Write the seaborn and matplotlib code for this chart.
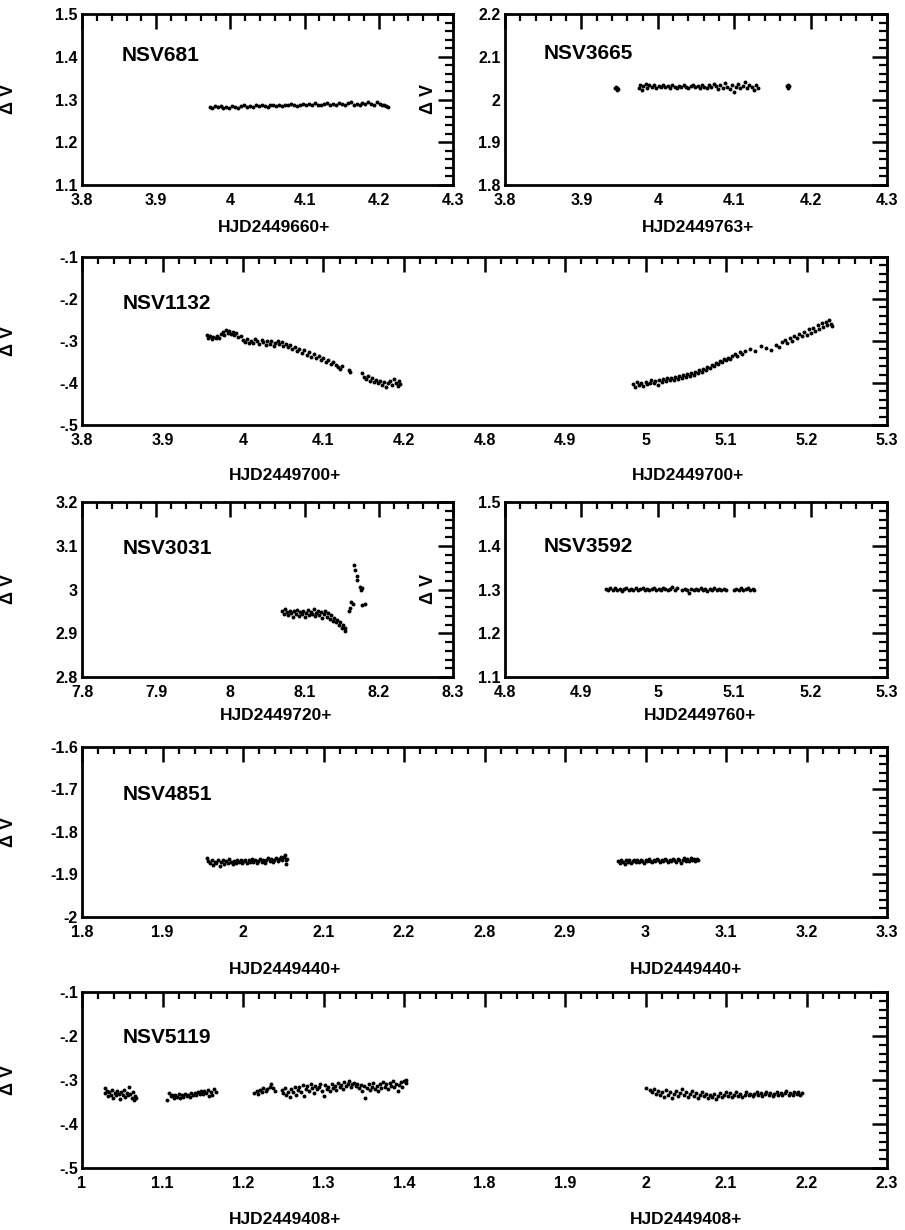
import matplotlib
matplotlib.use("Agg")
import matplotlib.pyplot as plt
import pandas as pd
import seaborn as sns
from matplotlib.ticker import MultipleLocator

# ---------------- data ----------------
nsv681 = [(3.972,1.283),(3.975,1.280),(3.979,1.285),(3.983,1.282),(3.987,1.284),(3.990,1.279),(3.994,1.283),(3.998,1.281),(4.002,1.285),(4.006,1.283),(4.010,1.281),(4.014,1.284),(4.018,1.286),(4.022,1.283),(4.026,1.285),(4.030,1.282),(4.034,1.286),(4.038,1.284),(4.042,1.287),(4.046,1.285),(4.050,1.283),(4.054,1.286),(4.058,1.288),(4.062,1.285),(4.066,1.287),(4.070,1.284),(4.074,1.288),(4.078,1.286),(4.082,1.289),(4.086,1.287),(4.090,1.285),(4.094,1.288),(4.098,1.290),(4.102,1.287),(4.106,1.289),(4.110,1.286),(4.114,1.291),(4.118,1.288),(4.122,1.286),(4.126,1.289),(4.130,1.291),(4.134,1.287),(4.138,1.290),(4.142,1.288),(4.146,1.292),(4.150,1.289),(4.154,1.287),(4.158,1.291),(4.162,1.293),(4.166,1.288),(4.170,1.290),(4.174,1.286),(4.178,1.291),(4.182,1.289),(4.186,1.293),(4.190,1.290),(4.194,1.288),(4.198,1.295),(4.201,1.289),(4.204,1.287),(4.207,1.286),(4.210,1.284),(4.212,1.283)]

nsv3665 = [(3.944,2.026),(3.946,2.023),(3.947,2.027),(3.945,2.029),(3.948,2.024),
           (3.975,2.028),(3.977,2.034),(3.979,2.022),(3.981,2.031),(3.984,2.036),(3.986,2.027),(3.989,2.033),(3.992,2.030),(3.995,2.035),(3.998,2.028),(4.001,2.032),(4.004,2.030),(4.007,2.034),(4.010,2.029),(4.013,2.031),(4.016,2.027),(4.019,2.033),(4.022,2.030),(4.025,2.028),(4.028,2.032),(4.031,2.029),(4.034,2.033),(4.037,2.030),(4.040,2.027),(4.043,2.031),(4.046,2.034),(4.049,2.029),(4.052,2.032),(4.055,2.028),(4.058,2.035),(4.061,2.030),(4.064,2.026),(4.067,2.033),(4.070,2.029),(4.073,2.036),(4.076,2.031),(4.079,2.025),(4.082,2.034),(4.085,2.028),(4.088,2.038),(4.091,2.030),(4.094,2.024),(4.097,2.033),(4.100,2.018),(4.102,2.029),(4.105,2.036),(4.108,2.027),(4.111,2.031),(4.114,2.040),(4.117,2.026),(4.120,2.033),(4.123,2.029),(4.126,2.022),(4.129,2.035),(4.131,2.027),
           (4.169,2.031),(4.171,2.028),(4.172,2.032),(4.170,2.034)]

nsv1132_a = [(3.955,-0.285),(3.957,-0.293),(3.959,-0.289),(3.961,-0.296),(3.963,-0.290),(3.966,-0.294),(3.968,-0.287),(3.970,-0.292),(3.973,-0.283),(3.975,-0.278),(3.977,-0.285),(3.979,-0.275),(3.981,-0.281),(3.983,-0.277),(3.985,-0.283),(3.987,-0.279),(3.989,-0.286),(3.991,-0.281),(3.994,-0.290),(3.997,-0.287),(4.000,-0.297),(4.002,-0.302),(4.005,-0.296),(4.008,-0.304),(4.010,-0.299),(4.013,-0.305),(4.015,-0.295),(4.018,-0.301),(4.020,-0.307),(4.023,-0.298),(4.025,-0.303),(4.028,-0.309),(4.030,-0.300),(4.033,-0.306),(4.035,-0.301),(4.038,-0.311),(4.040,-0.304),(4.043,-0.299),(4.045,-0.308),(4.048,-0.303),(4.050,-0.312),(4.053,-0.306),(4.056,-0.315),(4.058,-0.309),(4.061,-0.320),(4.064,-0.314),(4.067,-0.323),(4.070,-0.318),(4.073,-0.328),(4.076,-0.322),(4.079,-0.333),(4.082,-0.327),(4.085,-0.337),(4.088,-0.331),(4.091,-0.340),(4.094,-0.335),(4.097,-0.345),(4.100,-0.341),(4.103,-0.349),(4.106,-0.346),(4.109,-0.355),(4.112,-0.351),(4.115,-0.358),(4.118,-0.362),(4.121,-0.366),(4.123,-0.360),(4.132,-0.368),(4.133,-0.373),(4.148,-0.377),(4.150,-0.385),(4.153,-0.391),(4.155,-0.383),(4.158,-0.395),(4.160,-0.389),(4.163,-0.398),(4.165,-0.392),(4.168,-0.401),(4.170,-0.395),(4.173,-0.404),(4.175,-0.398),(4.178,-0.410),(4.180,-0.401),(4.183,-0.396),(4.185,-0.405),(4.188,-0.391),(4.190,-0.400),(4.192,-0.407),(4.194,-0.395),(4.195,-0.402)]

nsv1132_b = [(4.985,-0.402),(4.987,-0.410),(4.989,-0.398),(4.992,-0.405),(4.994,-0.400),(4.997,-0.407),(5.000,-0.397),(5.002,-0.403),(5.005,-0.399),(5.007,-0.394),(5.010,-0.401),(5.012,-0.396),(5.015,-0.404),(5.017,-0.393),(5.020,-0.398),(5.022,-0.391),(5.025,-0.396),(5.027,-0.389),(5.030,-0.394),(5.032,-0.387),(5.035,-0.392),(5.037,-0.385),(5.040,-0.390),(5.042,-0.384),(5.045,-0.388),(5.047,-0.381),(5.050,-0.386),(5.052,-0.379),(5.055,-0.383),(5.057,-0.376),(5.060,-0.381),(5.062,-0.374),(5.065,-0.377),(5.067,-0.370),(5.070,-0.373),(5.072,-0.366),(5.075,-0.369),(5.077,-0.362),(5.080,-0.365),(5.082,-0.357),(5.085,-0.360),(5.087,-0.353),(5.090,-0.355),(5.092,-0.348),(5.095,-0.351),(5.097,-0.344),(5.100,-0.346),(5.102,-0.340),(5.105,-0.342),(5.108,-0.335),(5.111,-0.330),(5.114,-0.336),(5.117,-0.326),(5.120,-0.331),(5.124,-0.323),(5.130,-0.319),(5.136,-0.324),(5.143,-0.312),(5.150,-0.317),(5.156,-0.321),(5.162,-0.309),(5.166,-0.314),(5.170,-0.303),(5.173,-0.298),(5.176,-0.305),(5.179,-0.294),(5.182,-0.299),(5.185,-0.288),(5.188,-0.293),(5.191,-0.283),(5.194,-0.289),(5.197,-0.279),(5.200,-0.285),(5.203,-0.272),(5.206,-0.281),(5.208,-0.268),(5.211,-0.276),(5.214,-0.262),(5.216,-0.272),(5.219,-0.258),(5.221,-0.267),(5.224,-0.254),(5.226,-0.263),(5.228,-0.249),(5.230,-0.259),(5.232,-0.265)]

nsv3031 = [(8.070,2.951),(8.072,2.945),(8.074,2.955),(8.076,2.948),(8.078,2.942),(8.080,2.952),(8.082,2.946),(8.084,2.938),(8.086,2.950),(8.088,2.944),(8.090,2.953),(8.092,2.940),(8.094,2.948),(8.096,2.943),(8.098,2.951),(8.100,2.937),(8.102,2.946),(8.104,2.954),(8.106,2.941),(8.108,2.949),(8.110,2.944),(8.112,2.956),(8.114,2.939),(8.116,2.947),(8.118,2.952),(8.120,2.942),(8.122,2.948),(8.124,2.935),(8.126,2.944),(8.128,2.950),(8.130,2.938),(8.132,2.946),(8.134,2.932),(8.136,2.941),(8.138,2.928),(8.140,2.936),(8.142,2.925),(8.144,2.931),(8.146,2.919),(8.148,2.926),(8.150,2.912),(8.152,2.918),(8.154,2.905),(8.155,2.912),
           (8.160,2.950),(8.161,2.957),(8.163,2.972),(8.165,2.968),(8.167,3.055),(8.168,3.045),(8.170,3.030),(8.171,3.022),(8.174,3.006),(8.176,3.000),(8.178,3.003),(8.178,2.965),(8.181,2.967)]

nsv3592 = [(4.932,1.301),(4.935,1.298),(4.938,1.303),(4.941,1.300),(4.944,1.304),(4.947,1.299),(4.950,1.302),(4.953,1.297),(4.956,1.301),(4.959,1.304),(4.962,1.299),(4.965,1.302),(4.968,1.300),(4.971,1.303),(4.974,1.298),(4.977,1.301),(4.980,1.304),(4.983,1.300),(4.986,1.302),(4.989,1.298),(4.992,1.301),(4.995,1.303),(4.998,1.299),(5.001,1.302),(5.004,1.300),(5.007,1.304),(5.010,1.301),(5.013,1.298),(5.016,1.302),(5.019,1.305),(5.022,1.300),(5.025,1.303),
           (5.032,1.299),(5.035,1.302),(5.038,1.300),(5.041,1.293),(5.044,1.301),(5.047,1.298),(5.050,1.302),(5.053,1.300),(5.056,1.303),(5.059,1.299),(5.062,1.301),(5.065,1.297),(5.068,1.302),(5.071,1.300),(5.074,1.304),(5.077,1.299),(5.080,1.301),(5.083,1.298),(5.086,1.302),(5.089,1.300),
           (5.100,1.299),(5.103,1.302),(5.106,1.300),(5.109,1.303),(5.112,1.298),(5.115,1.301),(5.118,1.304),(5.121,1.300),(5.124,1.302),(5.126,1.299)]

nsv4851_a = [(1.955,-1.862),(1.957,-1.868),(1.959,-1.873),(1.961,-1.866),(1.963,-1.877),(1.965,-1.870),(1.967,-1.874),(1.969,-1.867),(1.971,-1.879),(1.973,-1.871),(1.975,-1.866),(1.977,-1.875),(1.979,-1.869),(1.981,-1.873),(1.983,-1.864),(1.985,-1.870),(1.987,-1.876),(1.989,-1.868),(1.991,-1.872),(1.993,-1.865),(1.995,-1.871),(1.997,-1.867),(1.999,-1.874),(2.001,-1.869),(2.003,-1.865),(2.005,-1.872),(2.007,-1.867),(2.009,-1.870),(2.011,-1.864),(2.013,-1.871),(2.015,-1.866),(2.017,-1.873),(2.019,-1.868),(2.021,-1.864),(2.023,-1.870),(2.025,-1.866),(2.027,-1.872),(2.029,-1.867),(2.031,-1.862),(2.033,-1.869),(2.035,-1.864),(2.037,-1.871),(2.039,-1.866),(2.041,-1.861),(2.043,-1.868),(2.045,-1.863),(2.047,-1.858),(2.049,-1.866),(2.051,-1.860),(2.052,-1.855),(2.053,-1.867),(2.054,-1.875),(2.055,-1.863)]

nsv4851_b = [(2.966,-1.868),(2.968,-1.873),(2.970,-1.866),(2.972,-1.871),(2.974,-1.875),(2.976,-1.867),(2.978,-1.870),(2.980,-1.865),(2.982,-1.872),(2.984,-1.868),(2.986,-1.866),(2.988,-1.871),(2.990,-1.867),(2.992,-1.870),(2.994,-1.865),(2.996,-1.869),(2.998,-1.872),(3.000,-1.866),(3.002,-1.869),(3.004,-1.864),(3.006,-1.868),(3.008,-1.871),(3.010,-1.866),(3.012,-1.869),(3.014,-1.864),(3.016,-1.867),(3.018,-1.870),(3.020,-1.865),(3.022,-1.868),(3.024,-1.863),(3.026,-1.867),(3.028,-1.871),(3.030,-1.865),(3.032,-1.868),(3.034,-1.863),(3.036,-1.866),(3.038,-1.870),(3.040,-1.864),(3.042,-1.867),(3.044,-1.872),(3.046,-1.865),(3.048,-1.862),(3.050,-1.868),(3.052,-1.864),(3.054,-1.869),(3.056,-1.861),(3.058,-1.866),(3.060,-1.863),(3.062,-1.868),(3.064,-1.864),(3.065,-1.866)]

nsv5119_a = [(1.028,-0.318),(1.029,-0.330),(1.031,-0.325),(1.032,-0.337),(1.034,-0.328),(1.036,-0.333),(1.037,-0.322),(1.039,-0.340),(1.041,-0.329),(1.042,-0.335),(1.044,-0.326),(1.046,-0.331),(1.047,-0.344),(1.049,-0.327),(1.051,-0.334),(1.052,-0.323),(1.054,-0.338),(1.056,-0.329),(1.057,-0.335),(1.059,-0.316),(1.060,-0.331),(1.062,-0.340),(1.063,-0.327),(1.065,-0.345),(1.066,-0.336),(1.067,-0.342),
             (1.106,-0.345),(1.108,-0.330),(1.110,-0.337),(1.112,-0.333),(1.114,-0.340),(1.116,-0.335),(1.118,-0.338),(1.120,-0.332),(1.122,-0.341),(1.124,-0.335),(1.126,-0.338),(1.128,-0.331),(1.130,-0.336),(1.132,-0.333),(1.134,-0.339),(1.136,-0.330),(1.138,-0.335),(1.140,-0.329),(1.142,-0.334),(1.144,-0.327),(1.146,-0.332),(1.148,-0.326),(1.150,-0.331),(1.152,-0.324),(1.154,-0.330),(1.156,-0.322),(1.158,-0.336),(1.160,-0.327),(1.162,-0.333),(1.164,-0.320),(1.166,-0.328),
             (1.214,-0.330),(1.217,-0.325),(1.219,-0.332),(1.221,-0.322),(1.223,-0.328),(1.225,-0.318),(1.228,-0.326),(1.230,-0.321),(1.233,-0.315),(1.235,-0.308),(1.237,-0.319),(1.240,-0.324),(1.248,-0.323),(1.250,-0.330),(1.252,-0.318),(1.254,-0.335),(1.256,-0.327),(1.258,-0.339),(1.260,-0.320),(1.262,-0.328),(1.264,-0.315),(1.266,-0.333),(1.268,-0.322),(1.270,-0.317),(1.272,-0.327),(1.274,-0.312),(1.276,-0.336),(1.278,-0.320),(1.280,-0.314),(1.282,-0.325),(1.284,-0.310),(1.286,-0.318),(1.288,-0.329),(1.290,-0.313),(1.292,-0.321),(1.294,-0.316),(1.296,-0.308),(1.298,-0.324),(1.300,-0.337),(1.302,-0.312),(1.304,-0.320),(1.306,-0.315),(1.308,-0.326),(1.310,-0.309),(1.312,-0.318),(1.314,-0.313),(1.316,-0.322),(1.318,-0.307),(1.320,-0.316),(1.322,-0.311),(1.324,-0.320),(1.326,-0.305),(1.328,-0.314),(1.330,-0.309),(1.332,-0.303),(1.334,-0.317),(1.336,-0.310),(1.338,-0.306),(1.340,-0.313),(1.342,-0.308),(1.344,-0.319),(1.346,-0.311),(1.348,-0.326),(1.350,-0.314),(1.352,-0.342),(1.354,-0.318),(1.356,-0.310),(1.358,-0.322),(1.360,-0.315),(1.362,-0.307),(1.364,-0.320),(1.366,-0.313),(1.368,-0.325),(1.370,-0.310),(1.372,-0.318),(1.374,-0.304),(1.376,-0.316),(1.378,-0.310),(1.380,-0.321),(1.382,-0.306),(1.384,-0.314),(1.386,-0.302),(1.388,-0.317),(1.390,-0.309),(1.392,-0.324),(1.394,-0.311),(1.396,-0.305),(1.398,-0.315),(1.400,-0.303),(1.402,-0.299),(1.403,-0.307)]

nsv5119_b = [(2.000,-0.318),(2.005,-0.322),(2.008,-0.327),(2.010,-0.320),(2.013,-0.331),(2.015,-0.325),(2.018,-0.334),(2.020,-0.327),(2.023,-0.338),(2.025,-0.323),(2.028,-0.333),(2.030,-0.328),(2.033,-0.340),(2.035,-0.331),(2.038,-0.325),(2.040,-0.336),(2.043,-0.329),(2.045,-0.321),(2.048,-0.334),(2.050,-0.327),(2.053,-0.338),(2.055,-0.331),(2.058,-0.325),(2.060,-0.336),(2.063,-0.329),(2.065,-0.340),(2.068,-0.333),(2.070,-0.327),(2.073,-0.337),(2.075,-0.331),(2.078,-0.342),(2.080,-0.335),(2.083,-0.339),(2.085,-0.332),(2.088,-0.343),(2.090,-0.336),(2.093,-0.330),(2.095,-0.338),(2.098,-0.333),(2.100,-0.327),(2.103,-0.336),(2.105,-0.330),(2.108,-0.339),(2.110,-0.333),(2.113,-0.328),(2.115,-0.336),(2.118,-0.331),(2.120,-0.339),(2.123,-0.333),(2.125,-0.328),(2.128,-0.335),(2.130,-0.331),(2.133,-0.337),(2.135,-0.332),(2.138,-0.328),(2.140,-0.335),(2.143,-0.330),(2.145,-0.336),(2.148,-0.331),(2.150,-0.327),(2.153,-0.334),(2.155,-0.330),(2.158,-0.336),(2.160,-0.331),(2.163,-0.327),(2.165,-0.334),(2.168,-0.329),(2.170,-0.335),(2.173,-0.330),(2.175,-0.326),(2.178,-0.333),(2.180,-0.329),(2.183,-0.334),(2.185,-0.328),(2.188,-0.332),(2.190,-0.327),(2.192,-0.333),(2.194,-0.329)]

# tick labels
xlab_681 = ["3.8", "3.9", "4", "4.1", "4.2", "4.3"]
ylab_681 = ["1.1", "1.2", "1.3", "1.4", "1.5"]
xlab_3665 = ["3.8", "3.9", "4", "4.1", "4.2", "4.3"]
ylab_3665 = ["1.8", "1.9", "2", "2.1", "2.2"]
xlab_1132 = ["3.8", "3.9", "4", "4.1", "4.2", "4.8", "4.9", "5", "5.1", "5.2", "5.3"]
ylab_1132 = ["-.5", "-.4", "-.3", "-.2", "-.1"]
xlab_3031 = ["7.8", "7.9", "8", "8.1", "8.2", "8.3"]
ylab_3031 = ["2.8", "2.9", "3", "3.1", "3.2"]
xlab_3592 = ["4.8", "4.9", "5", "5.1", "5.2", "5.3"]
ylab_3592 = ["1.1", "1.2", "1.3", "1.4", "1.5"]
xlab_4851 = ["1.8", "1.9", "2", "2.1", "2.2", "2.8", "2.9", "3", "3.1", "3.2", "3.3"]
ylab_4851 = ["-2", "-1.9", "-1.8", "-1.7", "-1.6"]
xlab_5119 = ["1", "1.1", "1.2", "1.3", "1.4", "1.8", "1.9", "2", "2.1", "2.2", "2.3"]
ylab_5119 = ["-.5", "-.4", "-.3", "-.2", "-.1"]

# ---------------- figure ----------------
sns.set_theme(style="white")
plt.rcParams["font.family"] = ["Liberation Sans", "DejaVu Sans"]
plt.rcParams["font.weight"] = "bold"

W, H = 905, 1230
fig = plt.figure(figsize=(W / 100, H / 100), dpi=100)
fig.patch.set_facecolor("white")


def make_panel(px, name, xmin, ylo, xlabels, ylabels, segments, name_pos, ylabel_x):
    l, t, r, b = px
    ax = fig.add_axes([l / W, 1 - b / H, (r - l) / W, (b - t) / H])
    for pts, shift in segments:
        df = pd.DataFrame(pts, columns=["hjd", "dv"])
        df["pos"] = df["hjd"] + shift
        sns.scatterplot(data=df, x="pos", y="dv", ax=ax, color="black", s=8,
                        linewidth=0, legend=False, zorder=3)
    n = len(xlabels)
    xt = [round(xmin + 0.1 * i, 3) for i in range(n)]
    yt = [round(ylo + 0.1 * i, 3) for i in range(len(ylabels))]
    ax.set_xlim(xt[0], xt[-1])
    ax.set_ylim(yt[0], yt[-1])
    ax.set_xticks(xt)
    ax.set_xticklabels(xlabels)
    ax.set_yticks(yt)
    ax.set_yticklabels(ylabels)
    ax.xaxis.set_minor_locator(MultipleLocator(0.02))
    ax.yaxis.set_minor_locator(MultipleLocator(0.02))
    ax.tick_params(which="both", direction="in", top=True, right=True,
                   color="black", labelcolor="black")
    ax.tick_params(axis="x", which="major", length=10.5, width=1.8, pad=6, labelsize=11.5)
    ax.tick_params(axis="x", which="minor", length=5.2, width=1.6)
    ax.tick_params(axis="y", which="major", length=11, width=1.8, pad=3, labelsize=11.5)
    ax.tick_params(axis="y", which="minor", length=5.5, width=1.6)
    for lab in ax.get_xticklabels() + ax.get_yticklabels():
        lab.set_fontweight("bold")
    for sp in ax.spines.values():
        sp.set_visible(True)
        sp.set_color("black")
        sp.set_linewidth(2.0)
    ax.set_xlabel("")
    ax.set_ylabel("Δ V", fontsize=13, fontweight="bold", color="black")
    ax.yaxis.set_label_coords((ylabel_x - l) / (r - l), 0.5)
    ax.text(name_pos[0], name_pos[1], name, transform=ax.transAxes, ha="left",
            va="center", fontsize=15, fontweight="bold", color="black")
    ax.grid(False)
    ax.set_facecolor("white")
    return ax


def xtitle(x, y, s):
    fig.text(x / W, 1 - y / H, s, ha="center", va="center", fontsize=12.5,
             fontweight="bold", color="black")


# Row 1
make_panel((82, 14, 453, 185), "NSV681", 3.8, 1.1, xlab_681, ylab_681,
           [(nsv681, 0.0)], (0.108, 0.76), 17)
xtitle(274, 228, "HJD2449660+")
make_panel((505, 14, 887, 185), "NSV3665", 3.8, 1.8, xlab_3665, ylab_3665,
           [(nsv3665, 0.0)], (0.10, 0.77), 437)
xtitle(698, 228, "HJD2449763+")

# Row 2
make_panel((82, 257, 887, 425), "NSV1132", 3.8, -0.5, xlab_1132, ylab_1132,
           [(nsv1132_a, 0.0), (nsv1132_b, -0.5)], (0.051, 0.726), 17)
xtitle(285, 475, "HJD2449700+")
xtitle(688, 475, "HJD2449700+")

# Row 3
make_panel((82, 502, 453, 677), "NSV3031", 7.8, 2.8, xlab_3031, ylab_3031,
           [(nsv3031, 0.0)], (0.11, 0.737), 17)
xtitle(276, 715, "HJD2449720+")
make_panel((505, 502, 887, 677), "NSV3592", 4.8, 1.1, xlab_3592, ylab_3592,
           [(nsv3592, 0.0)], (0.10, 0.743), 437)
xtitle(700, 715, "HJD2449760+")

# Row 4
make_panel((82, 747, 887, 917), "NSV4851", 1.8, -2.0, xlab_4851, ylab_4851,
           [(nsv4851_a, 0.0), (nsv4851_b, -0.5)], (0.051, 0.718), 17)
xtitle(285, 970, "HJD2449440+")
xtitle(686, 970, "HJD2449440+")

# Row 5
make_panel((82, 992, 887, 1168), "NSV5119", 1.0, -0.5, xlab_5119, ylab_5119,
           [(nsv5119_a, 0.0), (nsv5119_b, -0.3)], (0.051, 0.744), 17)
xtitle(285, 1220, "HJD2449408+")
xtitle(686, 1220, "HJD2449408+")

fig.savefig("out.png", dpi=100, facecolor="white")
